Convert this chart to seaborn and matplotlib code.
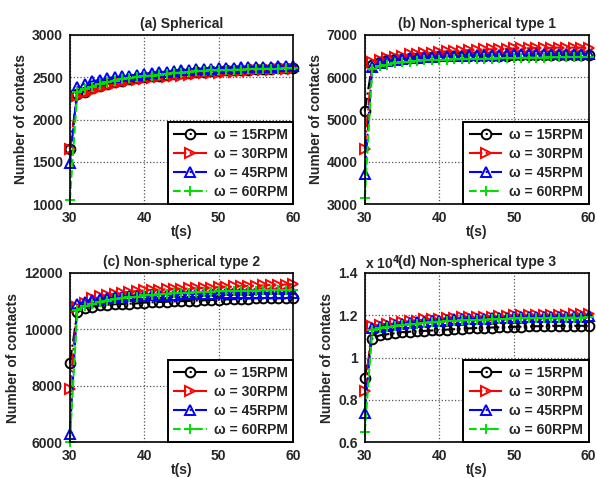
import numpy as np
import seaborn as sns
import matplotlib.pyplot as plt
from matplotlib.ticker import FuncFormatter

sns.set_style("white")
plt.rcParams['font.family'] = ['Liberation Sans', 'DejaVu Sans']
plt.rcParams['font.weight'] = 'bold'

# tiempo (s)
t = list(range(30, 61))

# (a) Spherical
a15 = [1650, 2300, 2330, 2370, 2400, 2420, 2440, 2460, 2480, 2490, 2500, 2510, 2520, 2530, 2540, 2545,
       2550, 2560, 2565, 2570, 2575, 2580, 2585, 2590, 2590, 2595, 2600, 2600, 2605, 2610, 2610]
a30 = [1650, 2280, 2310, 2340, 2370, 2400, 2420, 2440, 2460, 2470, 2480, 2490, 2500, 2505, 2510, 2520,
       2530, 2540, 2545, 2550, 2555, 2560, 2565, 2570, 2575, 2580, 2585, 2590, 2595, 2600, 2600]
a45 = [1480, 2380, 2420, 2450, 2470, 2490, 2500, 2510, 2520, 2530, 2540, 2550, 2560, 2565, 2570, 2580,
       2590, 2595, 2600, 2600, 2605, 2610, 2610, 2615, 2620, 2620, 2625, 2625, 2630, 2630, 2635]
a60 = [1050, 2330, 2360, 2390, 2420, 2440, 2460, 2480, 2490, 2500, 2510, 2520, 2530, 2540, 2550, 2555,
       2560, 2570, 2575, 2580, 2580, 2585, 2590, 2590, 2595, 2595, 2600, 2600, 2600, 2605, 2605]

# (b) Non-spherical type 1
b15 = [5200, 6300, 6360, 6400, 6420, 6440, 6450, 6460, 6470, 6480, 6490, 6490, 6495, 6500, 6500, 6505,
       6505, 6510, 6510, 6510, 6515, 6515, 6515, 6520, 6520, 6520, 6520, 6520, 6520, 6520, 6520]
b30 = [4300, 6350, 6400, 6450, 6480, 6510, 6540, 6560, 6570, 6580, 6600, 6610, 6620, 6630, 6640, 6650,
       6655, 6660, 6665, 6670, 6680, 6680, 6685, 6690, 6690, 6695, 6700, 6700, 6700, 6700, 6700]
b45 = [3700, 6250, 6330, 6380, 6410, 6430, 6450, 6460, 6470, 6480, 6490, 6500, 6505, 6510, 6515, 6520,
       6525, 6530, 6535, 6540, 6545, 6545, 6550, 6550, 6550, 6550, 6555, 6555, 6555, 6555, 6555]
b60 = [3150, 6200, 6260, 6300, 6330, 6350, 6370, 6380, 6400, 6405, 6410, 6415, 6420, 6425, 6430, 6430,
       6435, 6440, 6445, 6450, 6455, 6460, 6460, 6465, 6465, 6470, 6470, 6475, 6475, 6480, 6480]

# (c) Non-spherical type 2
c15 = [8800, 10600, 10750, 10800, 10850, 10870, 10890, 10900, 10910, 10920, 10950, 10960, 10970, 10980,
       10990, 11000, 11010, 11020, 11030, 11040, 11050, 11060, 11070, 11080, 11090, 11100, 11100, 11100,
       11100, 11100, 11100]
c30 = [7900, 10800, 10950, 11100, 11170, 11220, 11260, 11300, 11330, 11360, 11380, 11400, 11410, 11420,
       11430, 11440, 11450, 11460, 11470, 11480, 11500, 11510, 11520, 11530, 11540, 11550, 11560, 11570,
       11580, 11590, 11600]
c45 = [6300, 10900, 10980, 11050, 11080, 11110, 11130, 11150, 11170, 11180, 11190, 11200, 11210, 11215,
       11220, 11250, 11255, 11260, 11265, 11270, 11275, 11280, 11285, 11290, 11290, 11295, 11295, 11300,
       11300, 11300, 11300]
c60 = [6000, 10700, 10820, 10900, 10970, 11020, 11060, 11100, 11130, 11160, 11200, 11220, 11240, 11260,
       11280, 11290, 11300, 11310, 11320, 11330, 11350, 11355, 11360, 11365, 11370, 11375, 11380, 11385,
       11390, 11395, 11400]

# (d) Non-spherical type 3
d15 = [9050, 10900, 11050, 11100, 11150, 11200, 11220, 11240, 11260, 11280, 11300, 11320, 11340, 11360,
       11380, 11400, 11410, 11420, 11430, 11440, 11450, 11460, 11470, 11480, 11490, 11500, 11500, 11500,
       11500, 11500, 11500]
d30 = [8400, 11500, 11550, 11600, 11650, 11690, 11720, 11750, 11800, 11820, 11840, 11860, 11880, 11900,
       11910, 11920, 11930, 11940, 11950, 11960, 12000, 12000, 12010, 12010, 12020, 12020, 12030, 12030,
       12040, 12040, 12050]
d45 = [7400, 11400, 11450, 11500, 11550, 11600, 11630, 11660, 11700, 11720, 11740, 11760, 11800, 11810,
       11820, 11830, 11840, 11850, 11860, 11870, 11900, 11900, 11910, 11910, 11920, 11920, 11930, 11930,
       11940, 11940, 11950]
d60 = [6500, 11300, 11400, 11450, 11500, 11540, 11570, 11600, 11650, 11680, 11700, 11720, 11750, 11760,
       11770, 11780, 11790, 11800, 11810, 11820, 11850, 11850, 11860, 11860, 11870, 11870, 11880, 11880,
       11890, 11890, 11900]

labels = ['ω = 15RPM', 'ω = 30RPM', 'ω = 45RPM', 'ω = 60RPM']
colors = ['black', '#ff0000', '#0000ff', '#00e000']
markers = ['o', '>', '^', '+']
styles = ['-.', '-.', '-.', '--']

panels = [
    ("(a) Spherical", [a15, a30, a45, a60], (1000, 3000), [1000, 1500, 2000, 2500, 3000]),
    ("(b) Non-spherical type 1", [b15, b30, b45, b60], (3000, 7000), [3000, 4000, 5000, 6000, 7000]),
    ("(c) Non-spherical type 2", [c15, c30, c45, c60], (6000, 12000), [6000, 8000, 10000, 12000]),
    ("(d) Non-spherical type 3", [d15, d30, d45, d60], (6000, 14000), [6000, 8000, 10000, 12000, 14000]),
]
positions = [
    [0.117, 0.573, 0.374, 0.354],
    [0.611, 0.573, 0.375, 0.354],
    [0.117, 0.075, 0.374, 0.354],
    [0.611, 0.075, 0.375, 0.354],
]

fig = plt.figure(figsize=(5.97, 4.78), dpi=100)

for i, (title, series, ylim, yticks) in enumerate(panels):
    ax = fig.add_axes(positions[i])
    for s, lab, c, m, ls in zip(series, labels, colors, markers, styles):
        sns.lineplot(x=t, y=s, ax=ax, color=c, marker=m, linestyle=ls, linewidth=1.5,
                     markersize=7, markerfacecolor='none', markeredgecolor=c,
                     markeredgewidth=1.4, label=lab, clip_on=False, zorder=3)
    ax.set_xlim(30, 60)
    ax.set_ylim(*ylim)
    ax.set_xticks([30, 40, 50, 60])
    ax.set_yticks(yticks)
    if i == 3:
        ax.yaxis.set_major_formatter(FuncFormatter(lambda v, p: f"{v / 1e4:g}"))
        ax.text(0.0, 1.005, "x 10$^4$", transform=ax.transAxes, fontsize=10,
                fontweight='bold', ha='left', va='bottom')
    ax.grid(True, linestyle=':', color='#555555', linewidth=0.9)
    ax.tick_params(direction='in', length=3, labelsize=10, pad=5)
    for lbl in ax.get_xticklabels() + ax.get_yticklabels():
        lbl.set_fontweight('bold')
    for sp in ax.spines.values():
        sp.set_color('black')
        sp.set_linewidth(1.2)
        sp.set_zorder(4)
    ax.set_title(title, fontsize=10, fontweight='bold', pad=5)
    ax.set_xlabel("t(s)", fontsize=10, fontweight='bold', labelpad=0)
    ax.set_ylabel("Number of contacts", fontsize=10, fontweight='bold', labelpad=3)
    leg = ax.legend(loc='lower right', fontsize=10, handlelength=2.4, borderaxespad=0.0,
                    fancybox=False, edgecolor='black', framealpha=1, labelspacing=0.35,
                    handletextpad=0.5, borderpad=0.4)
    leg.get_frame().set_linewidth(1.4)
    leg.set_zorder(5)
    for txt in leg.get_texts():
        txt.set_fontweight('bold')

plt.savefig("out.png", dpi=100)
